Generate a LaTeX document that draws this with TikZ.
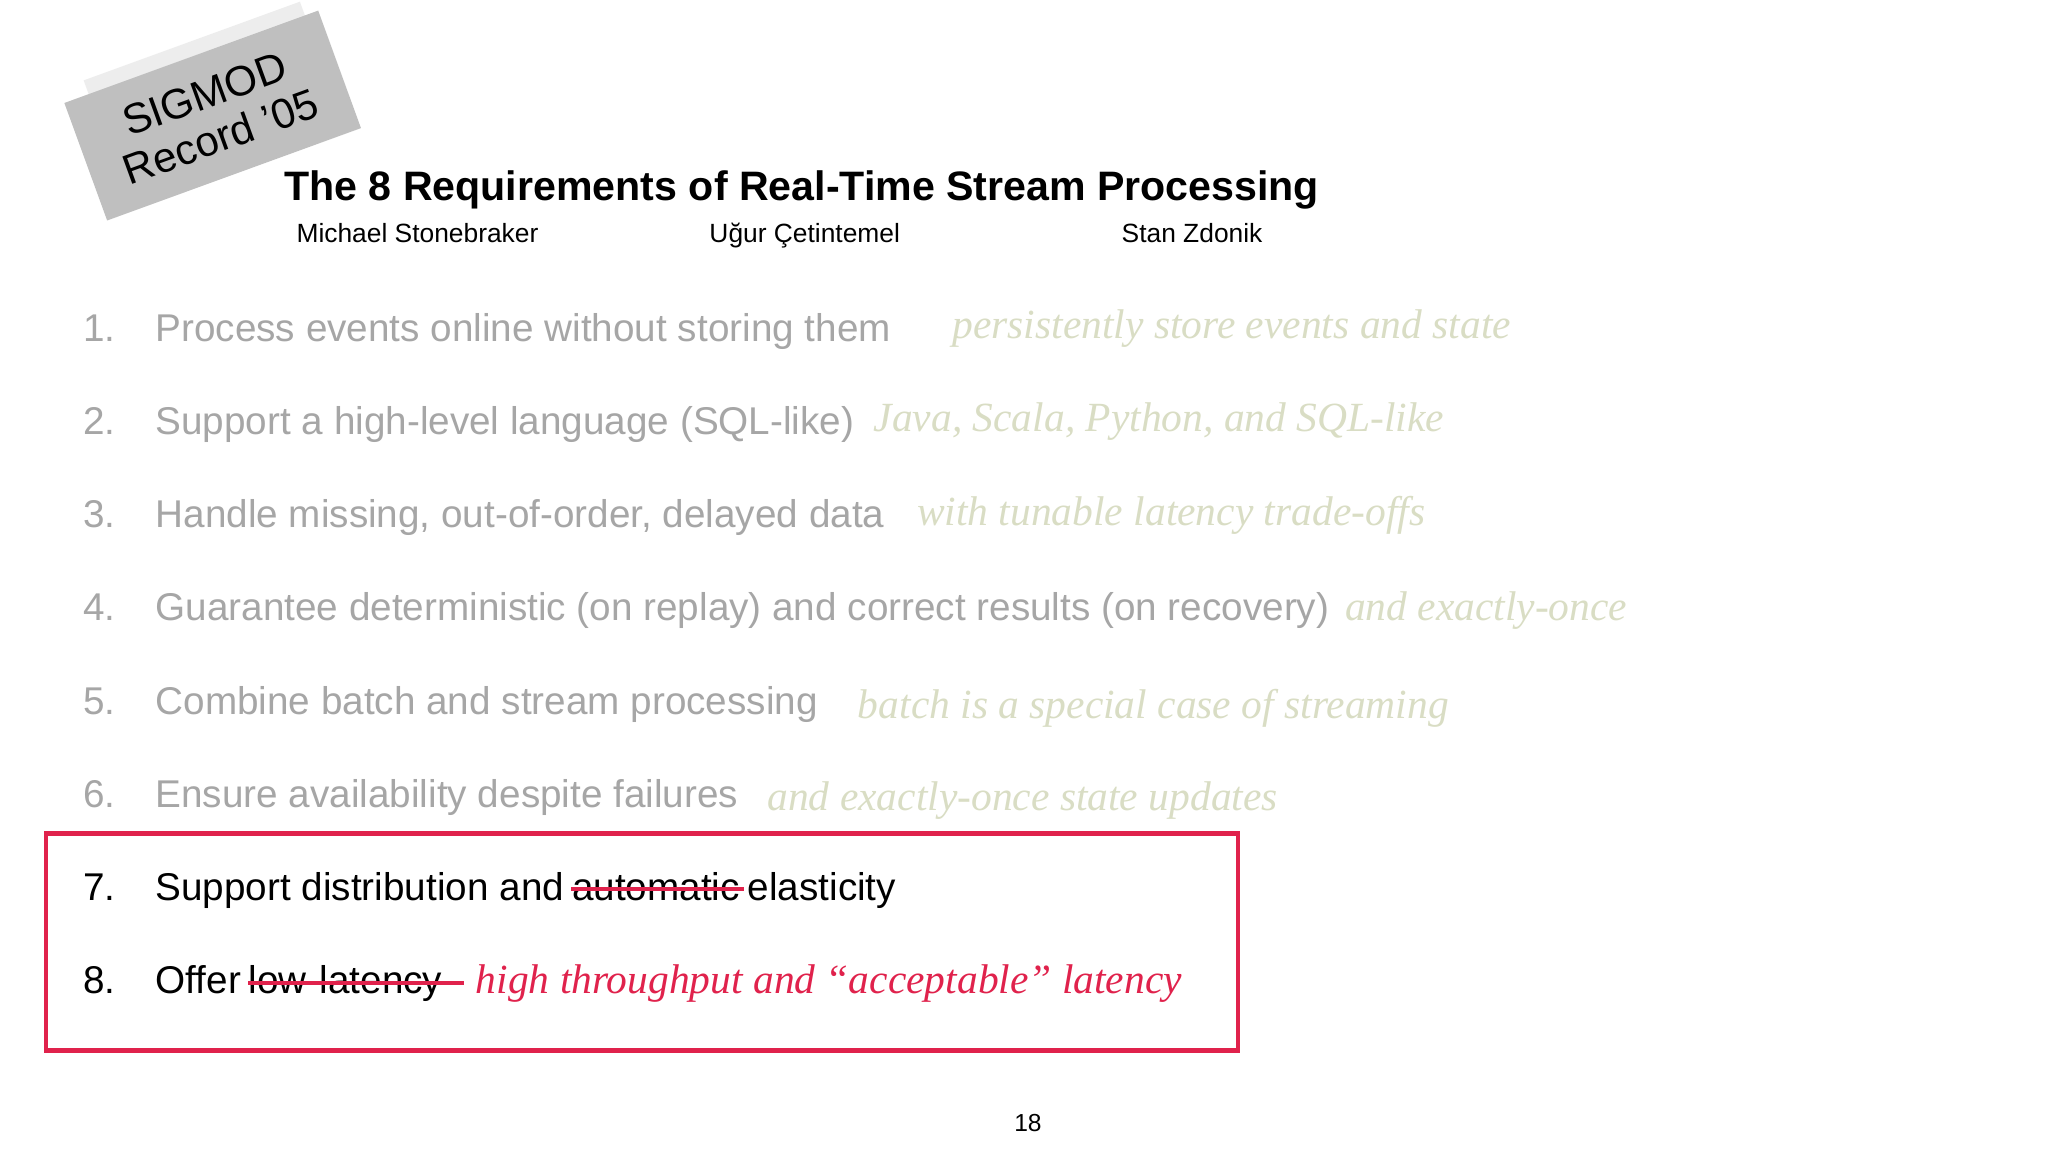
\documentclass[tikz,border=0pt]{standalone}
\usepackage{fontspec}
\setmainfont{Liberation Sans}
\newfontfamily\handfont{Liberation Serif}
\usetikzlibrary{positioning}
\definecolor{itemgray}{HTML}{A6A6A6}
\definecolor{notegreen}{HTML}{D9DDC4}
\definecolor{markred}{HTML}{E0224C}

\begin{document}
\begin{tikzpicture}[x=0.01313cm, y=-0.01313cm,
    num/.style = {anchor=base west, inner sep=0pt, font=\fontsize{11}{13}\selectfont, text=itemgray},
    item/.style = {anchor=base west, inner sep=0pt, font=\fontsize{11}{13}\selectfont, text=itemgray},
    note/.style = {anchor=base west, inner sep=0pt, font=\handfont\itshape\fontsize{11.8}{13}\selectfont, text=notegreen},
    strike/.style = {draw=markred, line width=1.1pt}]
    \useasboundingbox[fill=white] (0,0) rectangle (1560,877.5);

    %sticker
    \node[rotate=20, fill=black!7, minimum width=2.3cm, minimum height=0.3cm] at (150,42) (tape) {};
    \node[rotate=20, fill=black!25, minimum width=2.7cm, minimum height=1.25cm, align=center,
          font=\fontsize{12}{13}\selectfont] at (162,88) (sticker) {SIGMOD\\Record ’05};

    %title
    \node[anchor=base west, inner sep=0pt, font=\bfseries\fontsize{11.7}{13}\selectfont] at (216,153) (title)
        {The 8 Requirements of Real-Time Stream Processing};
    \node[anchor=base, inner sep=0pt, font=\fontsize{7.5}{9}\selectfont] at (318,185) (a1) {Michael Stonebraker};
    \node[anchor=base, inner sep=0pt, font=\fontsize{7.5}{9}\selectfont] at (613,185) (a2) {Uğur Çetintemel};
    \node[anchor=base, inner sep=0pt, font=\fontsize{7.5}{9}\selectfont] at (908,185) (a3) {Stan Zdonik};

    %items
    \node[num] at (63,260) (n1) {1.};
    \node[item] at (118,260) (t1) {Process events online without storing them};
    \node[note] at (725,258) (c1) {persistently store events and state};
    \node[num] at (63,331) (n2) {2.};
    \node[item] at (118,331) (t2) {Support a high-level language (SQL-like)};
    \node[note] at (665,329) (c2) {Java, Scala, Python, and SQL-like};
    \node[num] at (63,402) (n3) {3.};
    \node[item] at (118,402) (t3) {Handle missing, out-of-order, delayed data};
    \node[note] at (698,400) (c3) {with tunable latency trade-offs};
    \node[num] at (63,473) (n4) {4.};
    \node[item] at (118,473) (t4) {Guarantee deterministic (on replay) and correct results (on recovery)};
    \node[note] at (1024,473) (c4) {and exactly-once};
    \node[num] at (63,544) (n5) {5.};
    \node[item] at (118,544) (t5) {Combine batch and stream processing};
    \node[note] at (653,547) (c5) {batch is a special case of streaming};
    \node[num] at (63,615) (n6) {6.};
    \node[item] at (118,615) (t6) {Ensure availability despite failures};
    \node[note] at (584,617) (c6) {and exactly-once state updates};

    %highlighted
    \node[num, text=black] at (63,686) (n7) {7.};
    \node[item, text=black] at (118,686) (t7a) {Support distribution and};
    \node[item, text=black, right=5 of t7a.base east, anchor=base west] (t7b) {automatic};
    \node[item, text=black, right=5 of t7b.base east, anchor=base west] (t7c) {elasticity};
    \draw[strike] ([yshift=3.2pt]t7b.base west) -- ([yshift=3.2pt,xshift=1pt]t7b.base east);
    \node[num, text=black] at (63,757) (n8) {8.};
    \node[item, text=black] at (118,757) (t8a) {Offer};
    \node[item, text=black, right=5 of t8a.base east, anchor=base west] (t8b) {low-latency};
    \draw[strike] ([yshift=3.2pt]t8b.base west) -- ([yshift=3.2pt,xshift=6pt]t8b.base east);
    \node[note, text=markred] at (362,757) (c8) {high throughput and “acceptable” latency};
    \draw[markred, line width=1.3pt] (35,635) rectangle (943,800);

    \node[anchor=base, inner sep=0pt, font=\fontsize{7}{8}\selectfont] at (783,862) (page) {18};
\end{tikzpicture}
\end{document}
